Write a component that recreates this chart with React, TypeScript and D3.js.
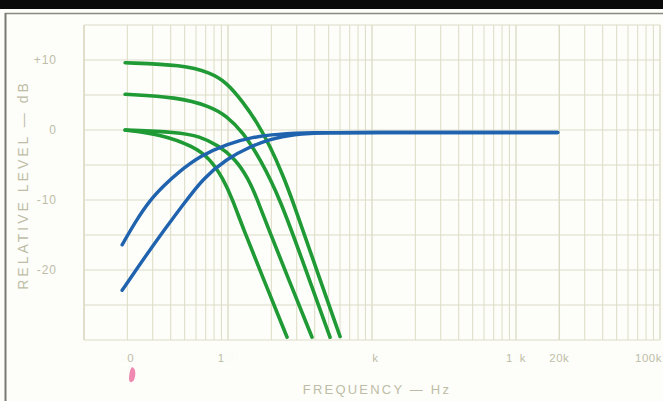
import React from "react";
import * as d3 from "d3";

type Pt = [number, number];

// Low-pass / shelving responses (green), Hz vs dB
const green1: Pt[] = [[19.3, 9.6], [48.7, 9.3], [75, 8.2], [98, 6.8], [127, 4.0], [159, 1.1], [196, -2.3], [241, -6.5], [278, -9.8], [408, -19.7], [600, -29.5]];
const green2: Pt[] = [[19.3, 5.1], [44.3, 4.7], [75, 3.4], [98, 2.0], [127, -0.3], [167, -4.1], [230, -9.8], [343, -19.7], [511, -29.6]];
const green3: Pt[] = [[19.3, 0], [44.3, -0.3], [63.9, -0.9], [85.3, -2.2], [112, -4.1], [138, -6.9], [159, -9.8], [190, -14.0], [261, -21.1], [383, -29.6]];
const green4: Pt[] = [[19.3, 0], [33.7, -0.6], [57.2, -2.3], [75, -4.1], [92.2, -6.9], [107, -9.8], [127, -14.0], [175, -21.1], [257, -29.6]];
// High-pass responses (blue)
const blue1: Pt[] = [[18.4, -16.4], [22.6, -13.2], [28.7, -10.0], [36.5, -7.8], [44.2, -6.2], [63.9, -3.7], [98.2, -2.0], [149, -1.0], [219, -0.6], [371, -0.35], [1000, -0.35], [5000, -0.35], [19500, -0.35]];
const blue2: Pt[] = [[18.4, -22.9], [23.3, -19.8], [33.7, -15.1], [48.7, -10.7], [67, -6.9], [98.2, -4.1], [142, -2.4], [196, -1.3], [282, -0.6], [488, -0.35], [1000, -0.35], [5000, -0.35], [19500, -0.35]];

const greenSeries = [green1, green2, green3, green4];
const blueSeries = [blue1, blue2];

const yTicks = [10, 0, -10, -20];
const yTickLabels = ["+10", "0", "-10", "-20"];
const xTicks = [20, 100, 1000, 10000, 20000];
// label parts as seen on the scan: [text, visible]
const xTickLabels: [string, boolean][][] = [
  [["2", false], ["0", true]],
  [["1", true], ["00", false]],
  [["1", false], ["k", true]],
  [["1", true], ["0", false], ["k", true]],
  [["20k", true]],
];
const lastTickLabel = "100k";

const W = 663, H = 401;

export default function App() {
  const x = d3.scaleLog().domain([10, 100000]).range([84, 660]);
  const y = d3.scaleLinear().domain([-30, 15]).range([340, 25]);

  const line = d3
    .line<Pt>()
    .x((d) => x(d[0]))
    .y((d) => y(d[1]))
    .curve(d3.curveBasis);

  const vLines: number[] = [];
  for (let dec = 10; dec <= 10000; dec *= 10) {
    for (let m = 1; m <= 9; m++) vLines.push(dec * m);
  }
  vLines.push(100000);
  const hLines = d3.range(-30, 16, 5);

  const gridColor = "#dcdcc6";
  const textColor = "#bdbda6";
  const font = "'Liberation Sans', 'DejaVu Sans', sans-serif";

  return (
    <svg width={W} height={H} style={{ position: "absolute", left: 0, top: 0, background: "#fdfdfa" }}>
      <rect x={0} y={0} width={W} height={H} fill="#fdfdfa" />
      {/* scan frame */}
      <rect x={0} y={0} width={W} height={9} fill="#0a0a0a" />
      <line x1={5} x2={W} y1={13.5} y2={13.5} stroke="#8a8a80" strokeWidth={1.5} />
      <line x1={5.5} x2={5.5} y1={13} y2={H} stroke="#7a7a70" strokeWidth={2} />

      {/* grid */}
      <g>
        {vLines.map((v) => {
          const isDec = Math.abs(Math.log10(v) - Math.round(Math.log10(v))) < 1e-9;
          return (
            <line
              key={"v" + v}
              x1={x(v)}
              x2={x(v)}
              y1={y(15)}
              y2={y(-30)}
              stroke={gridColor}
              strokeWidth={isDec ? 1.4 : 1}
            />
          );
        })}
        <line x1={x(20000)} x2={x(20000)} y1={y(15)} y2={y(-30)} stroke={gridColor} strokeWidth={1.4} />
        {hLines.map((h) => (
          <line key={"h" + h} x1={x(10)} x2={x(100000)} y1={y(h)} y2={y(h)} stroke={gridColor} strokeWidth={1.2} />
        ))}
        <line x1={x(10)} x2={x(10)} y1={y(15)} y2={y(-30)} stroke={gridColor} strokeWidth={1.4} />
      </g>

      {/* y tick labels */}
      {yTicks.map((t, i) => (
        <text key={"yt" + t} x={57} y={y(t) + 4} textAnchor="end" fontFamily={font} fontSize={12} fill={textColor} letterSpacing={1}>
          {yTickLabels[i]}
        </text>
      ))}

      {/* x tick labels */}
      {xTicks.map((t, i) => (
        <text key={"xt" + t} x={x(t)} y={362} textAnchor="middle" fontFamily={font} fontSize={11.5} fill={textColor} letterSpacing={0.5}>
          {xTickLabels[i].map(([s, vis], j) => (
            <tspan key={j} fillOpacity={vis ? 1 : 0.05}>{s}</tspan>
          ))}
        </text>
      ))}
      <text x={662} y={362} textAnchor="end" fontFamily={font} fontSize={11.5} fill={textColor} letterSpacing={0.5}>
        {lastTickLabel}
      </text>

      {/* axis titles */}
      <text x={377} y={394} textAnchor="middle" fontFamily={font} fontSize={13} fill={textColor} letterSpacing={2.2}>
        FREQUENCY — Hz
      </text>
      <text
        transform="translate(28,185) rotate(-90)"
        textAnchor="middle"
        fontFamily={font}
        fontSize={14}
        fill={textColor}
        letterSpacing={3}
      >
        RELATIVE LEVEL — dB
      </text>

      {/* curves */}
      {greenSeries.map((s, i) => (
        <path key={"g" + i} d={line(s) || ""} fill="none" stroke="#1f9a34" strokeWidth={3.6} strokeLinecap="round" />
      ))}
      {blueSeries.map((s, i) => (
        <path key={"b" + i} d={line(s) || ""} fill="none" stroke="#1f62ae" strokeWidth={3.4} strokeLinecap="round" />
      ))}

      {/* pink scan mark */}
      <path d="M132,367 C136,368 136,375 134,380 C132,383 129,383 129,379 C129,374 130,369 132,367 Z" fill="#f08ab0" />
    </svg>
  );
}
